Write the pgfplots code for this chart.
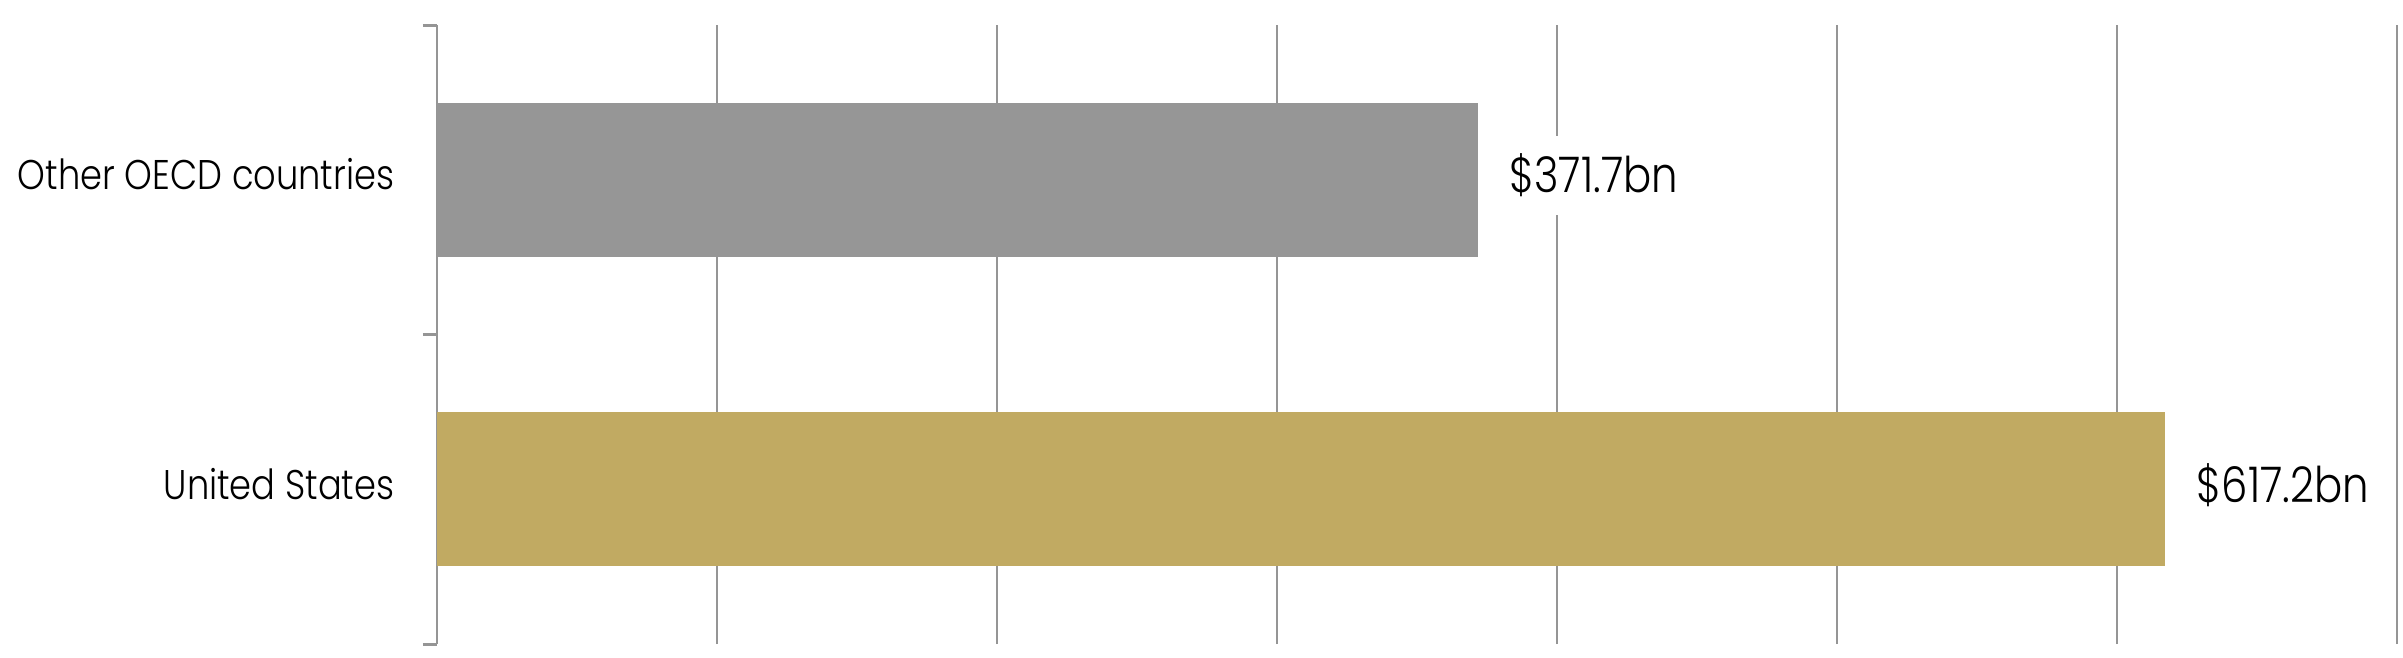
\documentclass[border=0pt]{standalone}
\usepackage{fontspec}
\setmainfont{Poppins Light}[FakeStretch=0.85]
\usepackage{pgfplots}
\pgfplotsset{compat=1.18}
\definecolor{axisgray}{HTML}{959595}
\definecolor{bargray}{HTML}{969696}
\definecolor{bargold}{HTML}{C1AA62}

\begin{document}
\begin{tikzpicture}
\useasboundingbox (0,0) rectangle (24.03cm,6.57cm);
\begin{axis}[
    at={(4.37cm,0.13cm)}, anchor=south west,
    scale only axis,
    width=19.60cm, height=6.19cm,
    xbar, bar shift=0pt, bar width=1.54cm,
    xmin=0, xmax=700,
    ymin=-0.5, ymax=1.5,
    xtick={100,200,...,700},
    xticklabels={},
    xmajorgrids,
    grid style={axisgray, line width=0.45pt},
    axis x line*=bottom,
    x axis line style={draw=none},
    major x tick style={draw=none},
    axis y line*=left,
    y axis line style={-, axisgray, line width=0.85pt},
    ytick={-0.5,0.5,1.5},
    yticklabels={},
    major y tick style={axisgray, line width=0.85pt},
    major tick length=0.14cm,
    tick align=outside,
    extra y ticks={0,1},
    extra y tick labels={United States, Other OECD countries},
    extra y tick style={major tick length=0pt, major tick style={draw=none},
        yticklabel style={font=\fontsize{11.8}{14}\selectfont, anchor=base east,
        inner sep=0pt, xshift=-0.42cm, yshift=-0.10cm}},
    point meta=explicit symbolic,
    nodes near coords,
    every node near coord/.append style={font=\fontsize{14}{16}\selectfont,
        anchor=base west, fill=white, inner xsep=0pt, inner ysep=5pt,
        xshift=0.31cm, yshift=-0.13cm},
]
\addplot[fill=bargray, draw=none] coordinates {(371.7,1) [\$371.7bn]};
\addplot[fill=bargold, draw=none] coordinates {(617.2,0) [\$617.2bn]};
\end{axis}
\end{tikzpicture}
\end{document}
